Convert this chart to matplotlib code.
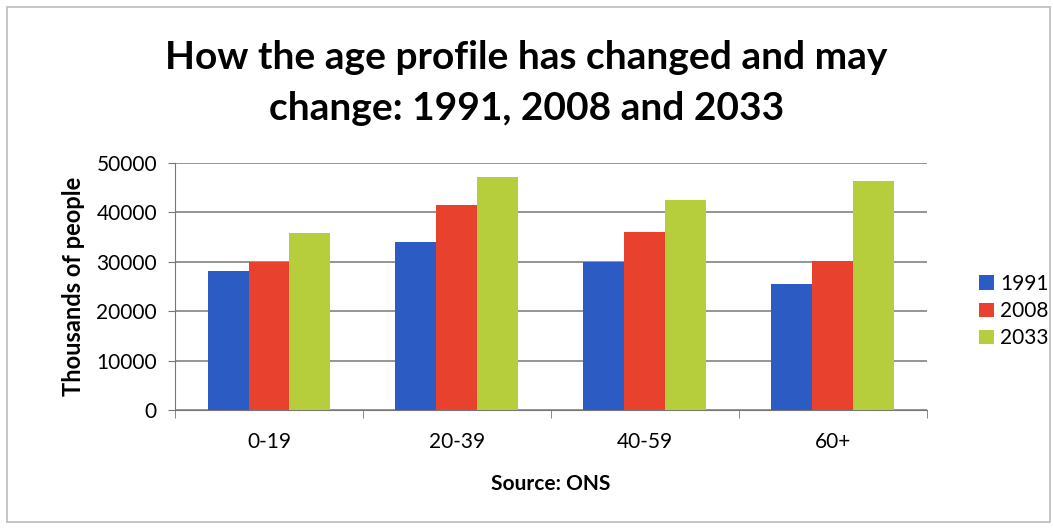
import matplotlib
matplotlib.use("Agg")
import matplotlib.pyplot as plt
import numpy as np
from matplotlib.patches import Rectangle

# data (thousands of people)
age_groups = ["0-19", "20-39", "40-59", "60+"]
years = ["1991", "2008", "2033"]
values_1991 = [28100, 34000, 30000, 25500]
values_2008 = [30000, 41400, 36100, 30200]
values_2033 = [35800, 47100, 42600, 46400]

colors = ["#2D5BC4", "#E8412E", "#B6CD3C"]

plt.rcParams['font.family'] = ['Lato', 'DejaVu Sans']

fig = plt.figure(figsize=(10.53, 5.28), dpi=100)
ax = fig.add_axes([0.1662, 0.2235, 0.714, 0.4678])

x = np.arange(len(age_groups))
w = 0.218
for i, (vals, c, lab) in enumerate(zip([values_1991, values_2008, values_2033], colors, years)):
    ax.bar(x + (i - 1) * w, vals, width=w, color=c, label=lab, zorder=3)

ax.set_xlim(-0.5, len(age_groups) - 0.5)
ax.set_ylim(0, 50000)
ax.set_yticks(range(0, 50001, 10000))
ax.grid(axis='y', color='#8c8c8c', linewidth=1.3, zorder=0)

ax.set_xticks(x)
ax.set_xticklabels(age_groups, fontsize=15)
ax.set_xticks(np.arange(-0.5, len(age_groups)), minor=True)
ax.tick_params(axis='x', which='major', length=0, pad=16)
ax.tick_params(axis='x', which='minor', length=6, color='#777777', direction='out')
ax.tick_params(axis='y', labelsize=15, length=5, color='#777777', pad=8)

for s in ['top', 'right']:
    ax.spines[s].set_visible(False)
ax.spines['left'].set_color('#777777')
ax.spines['bottom'].set_color('#777777')

ax.set_ylabel("Thousands of people", fontsize=17, fontweight='bold', labelpad=8)
ax.set_xlabel("Source: ONS", fontsize=15, fontweight='bold', labelpad=16)

fig.text(0.5, 0.842, "How the age profile has changed and may\nchange: 1991, 2008 and 2033",
         ha='center', va='center', fontsize=28, fontweight='bold', linespacing=1.55)

ax.legend(loc='center left', bbox_to_anchor=(1.045, 0.4), frameon=False, fontsize=15,
          handlelength=0.7, handleheight=0.7, handletextpad=0.3, labelspacing=0.35)

fig.patches.append(Rectangle((0.007, 0.012), 0.99, 0.975, transform=fig.transFigure,
                             fill=False, edgecolor='#bbbbbb', linewidth=1.2))

fig.savefig("out.png", dpi=100)
